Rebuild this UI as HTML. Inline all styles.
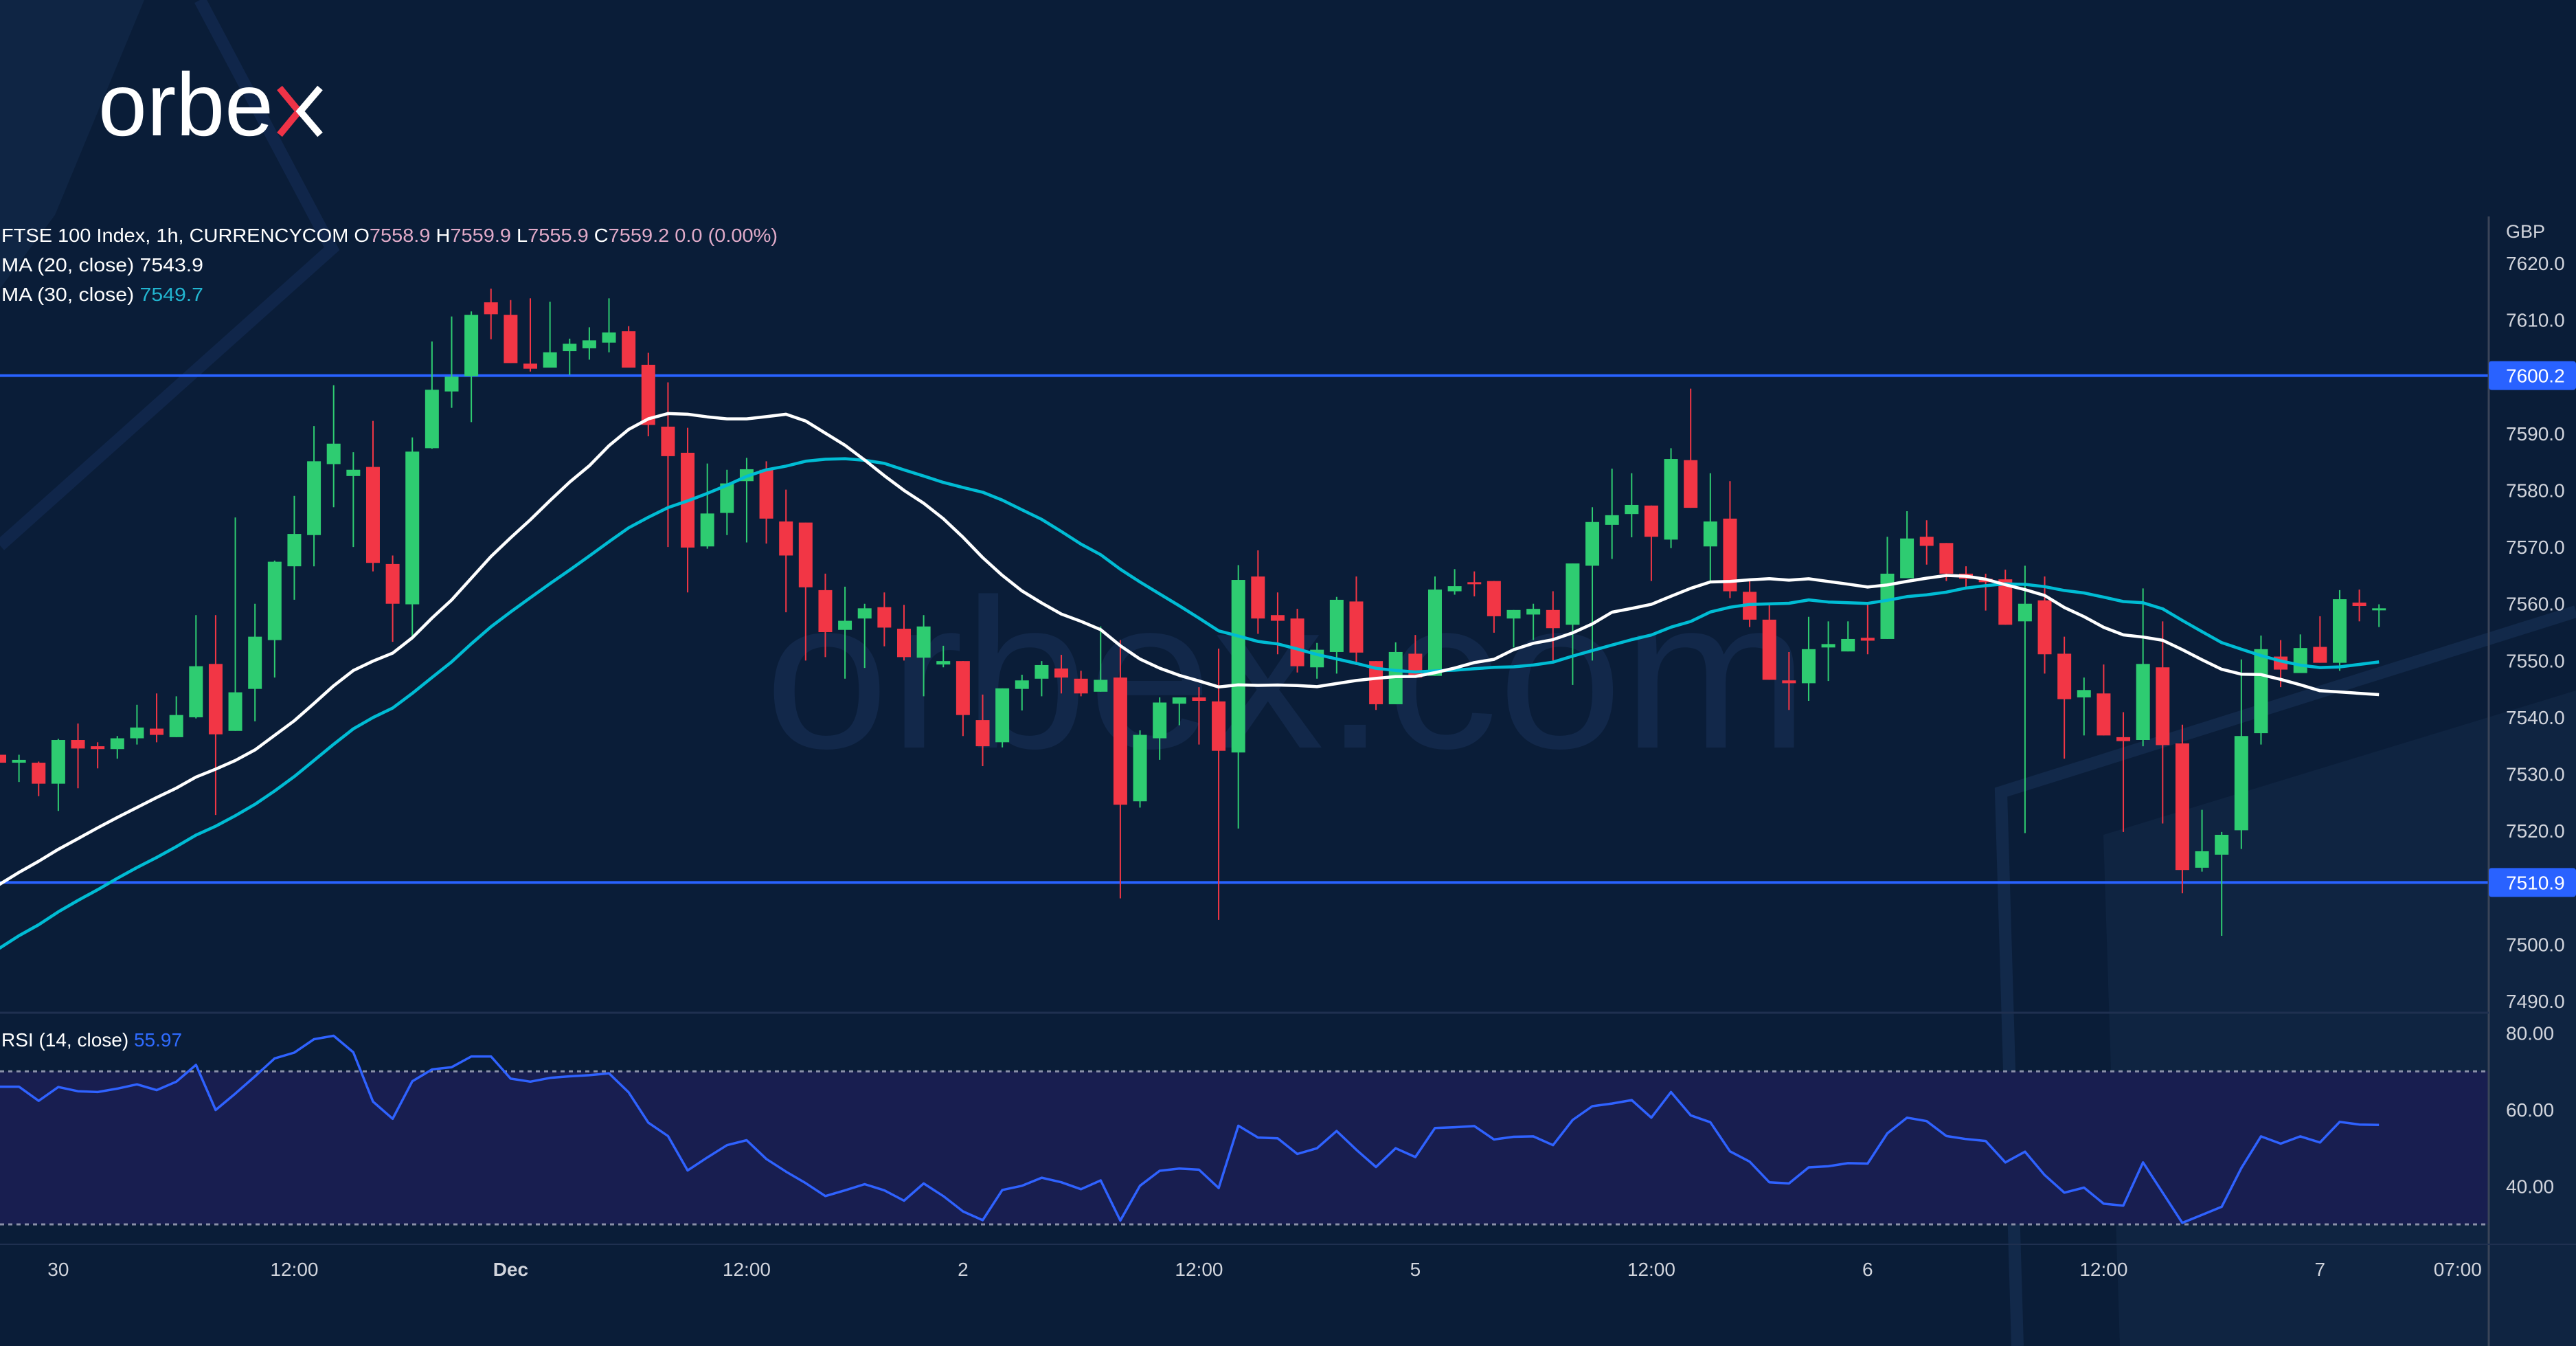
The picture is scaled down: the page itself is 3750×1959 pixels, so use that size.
<!DOCTYPE html>
<html><head><meta charset="utf-8"><style>
html,body{margin:0;padding:0;background:#0a1d38;}
svg{display:block;font-family:"Liberation Sans",sans-serif;}
</style></head><body>
<svg id="chart" width="3750" height="1959" viewBox="0 0 3750 1959">
<rect x="0" y="0" width="3750" height="1959" fill="#0a1d38"/>
<g>
<polygon points="0,0 210,0 80,313 0,420" fill="#0f2544"/>
<polyline points="291,0 483,362 0,794" fill="none" stroke="#10264a" stroke-width="18"/>
<polygon points="3062,1215 3750,1005 3750,1959 3086,1959" fill="#0f2441"/>
<polyline points="2937,1959 2913,1153 3750,890" fill="none" stroke="#12294a" stroke-width="18"/>
</g>
<text x="1113" y="1088" font-size="310" textLength="1520" lengthAdjust="spacingAndGlyphs" fill="#12284a">orbex.com</text>
<g>
<text x="143" y="197" font-size="130" textLength="255" lengthAdjust="spacingAndGlyphs" fill="#ffffff">orbe</text>
<polyline points="407,128 435,162 407,196" fill="none" stroke="#ef3347" stroke-width="10"/>
<polyline points="466,128 437,162 466,196" fill="none" stroke="#ffffff" stroke-width="10"/>
</g>
<g id="rsiBand"></g>
<g id="levels"></g>
<g id="candles"></g>
<g id="mas"></g>
<g id="axes">
<line x1="3623" y1="315" x2="3623" y2="1959" stroke="#3a4458" stroke-width="3"/>
<line x1="0" y1="1474" x2="3623" y2="1474" stroke="#1f3050" stroke-width="3"/>
<line x1="0" y1="1811" x2="3750" y2="1811" stroke="#1f3050" stroke-width="2"/>
<text x="3648" y="346" font-size="27" fill="#d1d4dc">GBP</text>
</g>
<g>
<text x="2" y="352" font-size="28" textLength="1130" lengthAdjust="spacingAndGlyphs" fill="#ffffff">FTSE 100 Index, 1h, CURRENCYCOM  O<tspan fill="#e0aac8">7558.9</tspan>  H<tspan fill="#e0aac8">7559.9</tspan>  L<tspan fill="#e0aac8">7555.9</tspan>  C<tspan fill="#e0aac8">7559.2</tspan>  <tspan fill="#e0aac8">0.0 (0.00%)</tspan></text>
<text x="2" y="395" font-size="28" textLength="294" lengthAdjust="spacingAndGlyphs" fill="#ffffff">MA (20, close)  7543.9</text>
<text x="2" y="438" font-size="28" textLength="294" lengthAdjust="spacingAndGlyphs" fill="#ffffff">MA (30, close)  <tspan fill="#22b5d0">7549.7</tspan></text>
<text x="2" y="1523" font-size="28" fill="#ffffff">RSI (14, close)  <tspan fill="#2f6bff">55.97</tspan></text>
</g>
</svg>
<script>
const opens=[7533.4,7532.0,7532.0,7528.3,7536.0,7534.9,7534.4,7536.3,7538.0,7536.5,7540.0,7549.4,7537.6,7545.0,7553.6,7566.6,7572.1,7584.6,7582.5,7584.1,7567.0,7559.9,7587.4,7597.4,7600.1,7613.1,7610.9,7602.3,7601.6,7604.5,7605.0,7606.0,7608.0,7602.1,7591.2,7586.6,7570.1,7576.0,7581.6,7583.6,7574.5,7574.3,7562.4,7555.4,7557.4,7559.4,7555.6,7550.5,7549.3,7549.9,7539.5,7535.6,7545.0,7546.8,7548.6,7546.8,7544.5,7547.0,7525.2,7536.3,7542.4,7543.5,7542.8,7533.8,7564.8,7558.0,7557.4,7548.8,7551.5,7560.4,7549.9,7542.3,7551.2,7547.3,7562.2,7563.8,7564.0,7557.4,7558.1,7558.9,7556.3,7566.7,7573.9,7575.8,7577.3,7571.3,7585.3,7570.1,7575.0,7562.1,7557.2,7546.5,7546.0,7552.3,7551.6,7554.0,7553.8,7564.5,7571.8,7570.7,7565.3,7564.4,7564.3,7556.9,7560.6,7551.2,7543.5,7544.2,7536.5,7536.0,7548.8,7535.4,7513.5,7515.8,7520.1,7537.2,7550.7,7547.8,7552.4,7549.6,7560.2,7558.9];
const highs=[7534.0,7533.4,7532.2,7536.2,7538.9,7535.6,7536.7,7542.2,7544.2,7543.7,7558.0,7558.0,7575.2,7560.0,7567.6,7579.0,7591.3,7598.5,7586.7,7592.2,7568.5,7589.3,7606.2,7610.6,7611.5,7615.5,7613.5,7613.8,7613.2,7606.7,7608.7,7613.8,7608.9,7604.2,7599.0,7591.0,7584.7,7583.6,7585.7,7585.1,7580.1,7574.3,7565.3,7563.0,7560.0,7562.0,7559.8,7558.0,7552.6,7549.9,7544.0,7545.1,7547.5,7549.9,7551.0,7548.2,7556.0,7553.6,7537.7,7543.5,7543.5,7545.3,7552.1,7566.8,7569.4,7562.0,7559.1,7553.1,7561.2,7564.8,7549.9,7553.2,7554.5,7564.8,7566.1,7565.7,7564.0,7558.9,7560.0,7562.2,7567.1,7577.0,7583.8,7583.0,7577.3,7587.4,7597.9,7583.0,7581.6,7564.0,7559.8,7551.5,7557.7,7556.9,7556.9,7559.8,7571.8,7576.3,7574.7,7570.7,7566.6,7565.3,7566.0,7566.7,7564.8,7554.2,7547.0,7549.3,7540.9,7562.7,7556.9,7538.7,7523.7,7519.8,7550.2,7554.4,7553.6,7554.6,7557.8,7562.4,7562.5,7559.9];
const lows=[7531.5,7528.6,7526.1,7523.5,7527.5,7531.0,7532.7,7535.2,7535.6,7536.5,7539.8,7522.8,7537.6,7539.3,7547.0,7560.7,7566.6,7577.0,7570.0,7565.7,7553.3,7553.9,7587.3,7594.5,7592.0,7606.6,7602.4,7600.9,7601.6,7600.3,7603.0,7604.3,7601.6,7589.5,7570.0,7562.0,7569.7,7572.1,7570.8,7570.6,7558.5,7550.0,7550.6,7546.8,7548.7,7552.5,7550.0,7543.7,7548.8,7536.7,7531.4,7534.7,7541.2,7543.7,7544.2,7543.7,7544.5,7508.1,7524.1,7532.5,7538.6,7535.2,7504.3,7520.4,7554.7,7551.1,7547.9,7546.8,7547.7,7549.2,7541.3,7542.3,7547.0,7547.3,7561.6,7561.3,7554.9,7552.3,7553.6,7550.0,7545.7,7550.0,7567.9,7571.7,7564.0,7569.8,7576.9,7564.0,7561.0,7555.9,7546.6,7541.3,7542.9,7546.4,7551.6,7551.1,7553.8,7564.5,7566.9,7564.0,7562.6,7558.8,7556.3,7519.6,7547.7,7532.7,7536.8,7536.8,7519.8,7534.9,7521.3,7509.0,7512.8,7501.5,7516.8,7535.2,7545.3,7547.8,7549.6,7548.2,7556.9,7555.9];
const closes=[7532.0,7532.5,7528.3,7536.0,7534.5,7534.4,7536.3,7538.2,7536.9,7540.4,7549.0,7537.0,7544.4,7554.2,7567.4,7572.3,7585.1,7588.2,7583.6,7567.2,7560.0,7586.8,7597.7,7600.0,7610.9,7611.0,7602.4,7601.4,7604.3,7605.8,7606.4,7607.8,7601.6,7591.5,7586.0,7569.9,7575.9,7581.2,7583.7,7575.0,7568.5,7562.9,7555.0,7557.0,7559.2,7555.8,7550.6,7556.0,7549.9,7540.4,7534.9,7545.1,7546.5,7549.2,7547.0,7544.2,7546.6,7524.6,7536.9,7542.6,7543.5,7542.9,7534.1,7564.2,7557.4,7557.0,7549.0,7551.9,7560.7,7551.4,7542.3,7551.5,7547.0,7562.5,7563.1,7563.7,7557.8,7558.9,7559.1,7555.7,7567.1,7574.4,7575.6,7577.4,7571.8,7585.5,7576.9,7574.5,7562.2,7557.2,7546.6,7546.0,7552.0,7552.9,7553.8,7553.5,7565.3,7571.5,7570.2,7565.3,7564.4,7563.8,7556.3,7560.0,7551.1,7543.2,7544.8,7536.8,7535.8,7549.4,7535.1,7513.1,7516.4,7519.3,7536.7,7552.0,7548.4,7552.2,7549.6,7560.8,7559.6,7559.2];
const prevCloses=[7466,7470,7468,7474,7478,7476,7481,7484,7483,7488,7490,7489,7494,7497,7496,7500,7503,7502,7507,7510,7509,7514,7517,7516,7521,7524,7526,7530,7534];
const rsiValues=[66.0,66.0,62.3,65.9,64.8,64.6,65.5,66.6,65.1,67.3,71.7,59.9,64.2,68.7,73.4,74.9,78.4,79.3,75.0,62.1,57.6,67.4,70.5,71.1,73.9,73.9,68.1,67.3,68.3,68.7,69.0,69.5,64.5,56.6,53.1,44.1,47.5,50.7,52.0,47.1,43.8,40.8,37.4,38.9,40.5,38.9,36.2,40.7,37.4,33.4,31.1,39.0,40.1,42.2,41.0,39.2,41.5,31.0,40.1,44.0,44.6,44.3,39.5,55.8,52.7,52.5,48.4,49.9,54.4,49.5,45.0,49.9,47.6,55.2,55.4,55.7,52.2,52.9,53.0,50.7,57.3,60.9,61.6,62.5,57.9,64.6,58.5,56.7,49.1,46.4,41.0,40.7,44.9,45.2,46.0,45.9,53.8,57.9,57.0,53.1,52.3,51.8,46.2,49.0,42.9,38.3,39.6,35.4,34.9,46.2,38.3,30.4,32.5,34.6,44.7,53.0,51.1,53.0,51.4,56.8,56.1,56.0];
const priceTicks=[7620,7610,7590,7580,7570,7560,7550,7540,7530,7520,7500,7490];
const levelPrices=[7600.2,7510.9];
const rsiTicks=[80,60,40];
const rsiBands=[70,30];
const timeLabels=["30","12:00","Dec","12:00","2","12:00","5","12:00","6","12:00","7","07:00"];
const timeIdx=[3,15,26,38,49,61,72,84,95,107,118,125];

const NS="http://www.w3.org/2000/svg";
function xI(i){return -1+28.63*i;}
function yP(p){return 383+(7620-p)*8.262;}
function yR(v){return 1559.3+(70-v)*5.567;}
function mk(tag,attrs,parent){const e=document.createElementNS(NS,tag);for(const k in attrs)e.setAttribute(k,attrs[k]);parent.appendChild(e);return e;}

// RSI pane
const rg=document.getElementById('rsiBand');
const band=mk('rect',{x:0,y:yR(rsiBands[0]),width:3623,height:yR(rsiBands[1])-yR(rsiBands[0]),fill:'#181e50'},rg);


rsiBands.forEach(v=>{
  const l=mk('line',{x1:0,x2:3623,y1:yR(v),y2:yR(v),stroke:'#8a90a8','stroke-width':3,'stroke-dasharray':'6 6'},rg);
  
  
});
let rp='';
rsiValues.forEach((v,i)=>{rp+=(i?'L':'M')+xI(i).toFixed(1)+','+yR(v).toFixed(1);});
const rl=mk('path',{d:rp,fill:'none',stroke:'#2f62ff','stroke-width':3.5,'stroke-linejoin':'round'},rg);



// level lines
const lg=document.getElementById('levels');
const ax=document.getElementById('axes');
levelPrices.forEach(p=>{
  const l=mk('line',{x1:0,x2:3623,y1:yP(p),y2:yP(p),stroke:'#2962ff','stroke-width':4},lg);
  
  
  const r=mk('rect',{x:3623,y:yP(p)-21,width:127,height:42,rx:4,fill:'#2962ff'},ax);
  
  
  const t=mk('text',{x:3648,y:yP(p)+10,'font-size':28,fill:'#ffffff'},ax);
  t.textContent=p.toFixed(1);
  
  
});
priceTicks.forEach(p=>{
  const t=mk('text',{x:3648,y:yP(p)+10,'font-size':28,fill:'#d1d4dc'},ax);
  t.textContent=p.toFixed(1);
  
  
});
rsiTicks.forEach(v=>{
  const t=mk('text',{x:3648,y:yR(v)+10,'font-size':28,fill:'#d1d4dc'},ax);
  t.textContent=v.toFixed(2);
  
  
});
timeLabels.forEach((s,k)=>{
  const t=mk('text',{x:xI(timeIdx[k]),y:1857,'font-size':28,fill:'#d1d4dc','text-anchor':'middle','font-weight':(s==='Dec'?'bold':'normal')},ax);
  t.textContent=s;
  
  
});

// candles
const cg=document.getElementById('candles');
closes.forEach((c,i)=>{
  const o=opens[i],up=c>=o,col=up?'#2ecc71':'#f23645',x=xI(i);
  const w=mk('line',{x1:x,x2:x,y1:yP(highs[i]),y2:yP(lows[i]),stroke:col,'stroke-width':2},cg);
  
  
  const top=yP(Math.max(o,c)),bot=yP(Math.min(o,c));
  const b=mk('rect',{x:x-10,y:top,width:20,height:Math.max(3,bot-top),fill:col},cg);
  
  
});

// moving averages
const all=prevCloses.concat(closes),off=prevCloses.length;
function sma(n){const out=[];for(let i=0;i<closes.length;i++){let s=0;for(let k=0;k<n;k++)s+=all[off+i-k];out.push(s/n);}return out;}
const mg=document.getElementById('mas');
[[30,'#00bcd4','ma30-line'],[20,'#ffffff','ma20-line']].forEach(([n,col,name])=>{
  const v=sma(n);let d='';
  v.forEach((m,i)=>{d+=(i?'L':'M')+xI(i).toFixed(1)+','+yP(m).toFixed(1);});
  const p=mk('path',{d:d,fill:'none',stroke:col,'stroke-width':4.5,'stroke-linejoin':'round'},mg);
  
  
});
</script>
</body></html>
